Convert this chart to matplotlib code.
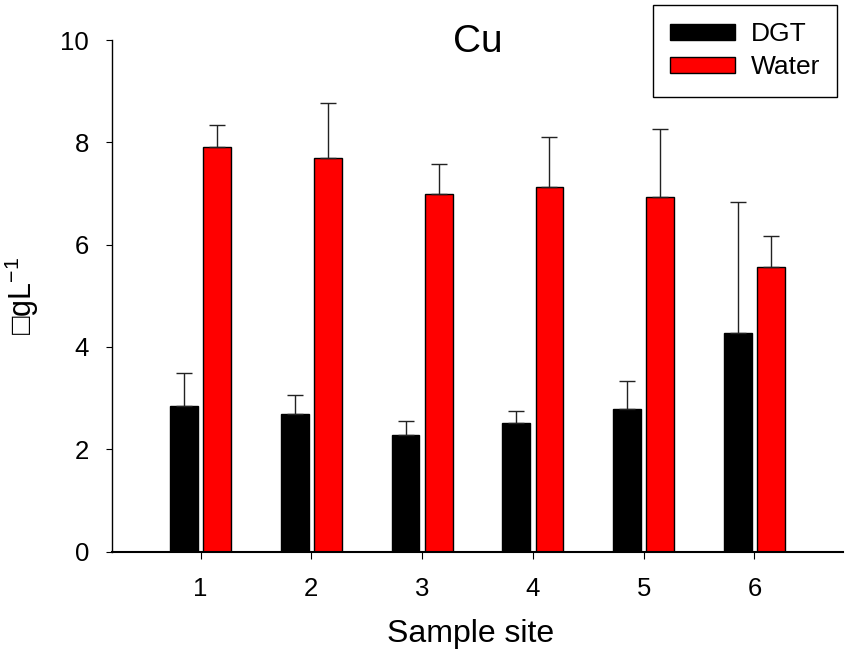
import numpy as np
import matplotlib
matplotlib.use('Agg')
import matplotlib.pyplot as plt

plt.rcParams['font.family'] = ['Liberation Sans', 'DejaVu Sans']
plt.rcParams['mathtext.fontset'] = 'custom'
plt.rcParams['mathtext.rm'] = 'Liberation Sans'
plt.rcParams['mathtext.it'] = 'Liberation Sans'
plt.rcParams['mathtext.fallback'] = 'stixsans'

# Данные
sites = [1, 2, 3, 4, 5, 6]
site_labels = ['1', '2', '3', '4', '5', '6']
dgt = [2.84, 2.68, 2.28, 2.52, 2.79, 4.28]
dgt_err = [0.65, 0.37, 0.27, 0.23, 0.54, 2.56]
water = [7.91, 7.70, 6.98, 7.12, 6.93, 5.56]
water_err = [0.43, 1.06, 0.60, 0.98, 1.33, 0.60]

x = np.array(sites, dtype=float)
w = 0.25
off = 0.15

fig = plt.figure(figsize=(8.46, 6.49), dpi=100)
ax = fig.add_axes([112/846, 1 - 551.5/649, (843 - 112)/846, (551.5 - 40)/649])

ax.bar(x - off, dgt, w, color='black', edgecolor='black', lw=1, label='DGT', zorder=2)
ax.bar(x + off, water, w, color='#ff0000', edgecolor='black', lw=1, label='Water', zorder=2)

# Только верхние планки погрешностей
ax.errorbar(x - off, dgt, yerr=[np.zeros(6), dgt_err], fmt='none', ecolor='#222222',
            elinewidth=1, capsize=6, capthick=1, zorder=3)
ax.errorbar(x + off, water, yerr=[np.zeros(6), water_err], fmt='none', ecolor='#222222',
            elinewidth=1, capsize=6, capthick=1, zorder=3)

ax.set_xlim(0.2, 6.8)
ax.set_ylim(0, 10)
ax.set_xticks(x)
ax.set_xticklabels(site_labels)
ax.set_yticks([0, 2, 4, 6, 8, 10])
ax.tick_params(axis='x', direction='out', length=5, width=0.8, labelsize=18.5, pad=13)
ax.tick_params(axis='y', direction='out', length=4.5, width=0.8, labelsize=18.5, pad=12)

for s in ['top', 'right']:
    ax.spines[s].set_visible(False)
ax.spines['bottom'].set_linewidth(1.5)
ax.spines['left'].set_linewidth(1.0)

ax.text(0.5, 1 - 11.7/511.5, 'Cu', transform=ax.transAxes, ha='center', va='baseline', fontsize=28)

fig.text(471/846, 7/649, 'Sample site', ha='center', va='baseline', fontsize=23)
fig.text(22/846, 1 - 296/649, '\u25a1gL$^{-1}$', ha='center', va='center', rotation=90, fontsize=22)

leg = fig.legend(loc='upper right', bbox_to_anchor=(837/846, 1 - 5/649), borderaxespad=0,
                 fontsize=19, fancybox=False, framealpha=1, edgecolor='black',
                 handlelength=2.46, handleheight=0.57, handletextpad=0.6,
                 borderpad=0.65, labelspacing=0.35)
leg.get_frame().set_linewidth(1)

plt.savefig('out.png', dpi=100)
